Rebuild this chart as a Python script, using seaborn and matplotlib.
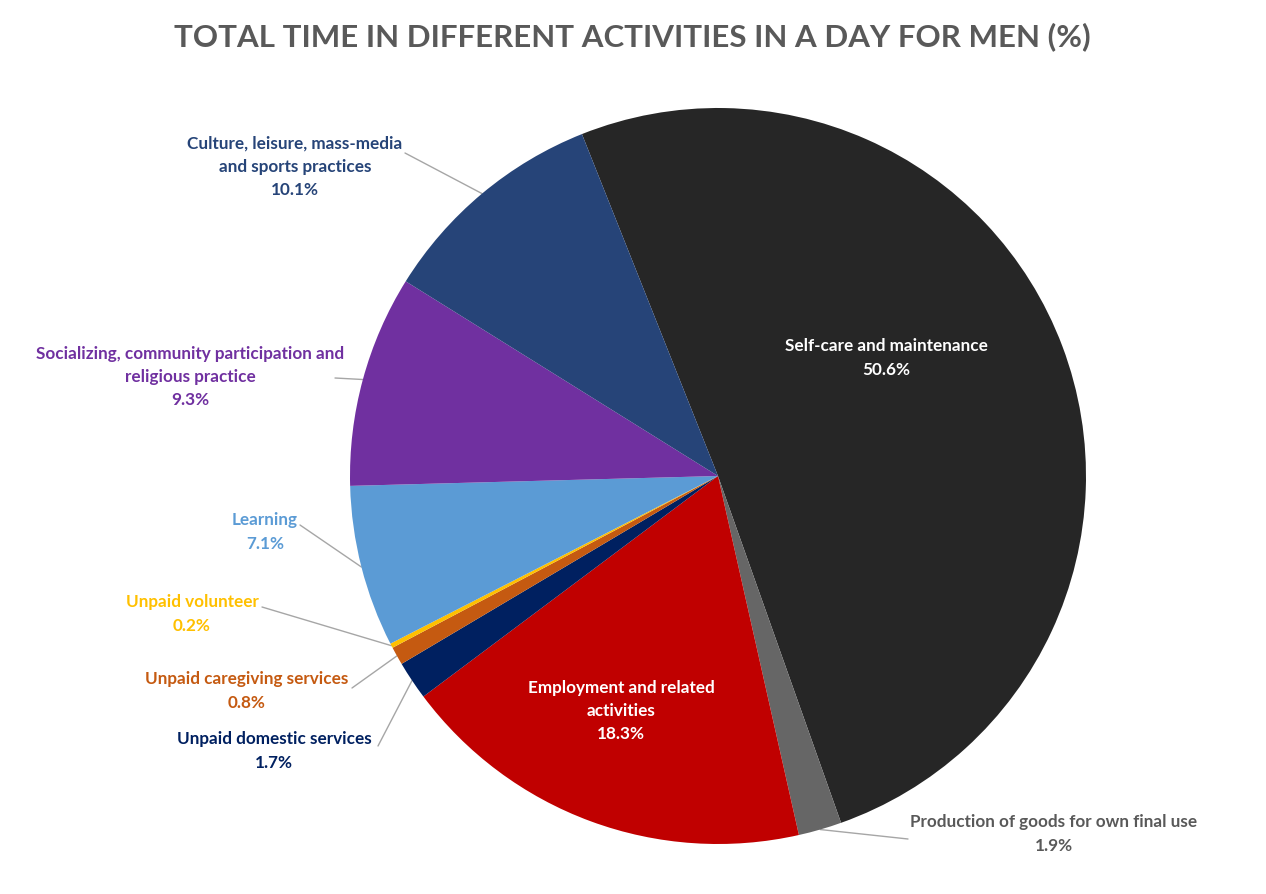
import numpy as np
import matplotlib.pyplot as plt
import seaborn as sns

# Data: share of the day (%) spent on each activity, men
activities = ['Self-care and maintenance', 'Production of goods for own final use',
              'Employment and related activities', 'Unpaid domestic services',
              'Unpaid caregiving services', 'Unpaid volunteer', 'Learning',
              'Socializing, community participation and religious practice',
              'Culture, leisure, mass-media and sports practices']
shares = [50.6, 1.9, 18.3, 1.7, 0.8, 0.2, 7.1, 9.3, 10.1]
label_lines = ['Self-care and maintenance', 'Production of goods for own final use',
               'Employment and related\nactivities', 'Unpaid domestic services',
               'Unpaid caregiving services', 'Unpaid volunteer', 'Learning',
               'Socializing, community participation and\nreligious practice',
               'Culture, leisure, mass-media\nand sports practices']
colors = ['#262626', '#666666', '#C00000', '#002060', '#C55A11', '#FFC000',
          '#5B9BD5', '#7030A0', '#264478']
text_colors = ['white', '#595959', 'white', '#002060', '#C55A11', '#FFC000',
               '#5B9BD5', '#7030A0', '#264478']

# layout (pixel positions of label centres and leader-line starts)
W, H = 1266, 894
CX, CY, R = 718, 476, 368
label_pos = [(886, 358), (1054, 834), (621, 711), (274, 751), (247, 691),
             (192, 614), (265, 532), (190, 377), (295, 167)]
leader_start = [None, (908, 839), None, (378, 746), (352, 688), (262, 607),
                (300, 525), (335, 378), (405, 153)]

sns.set_theme(style='white')
plt.rcParams['font.family'] = ['Lato', 'DejaVu Sans']


def to_data(p):
    return (p[0] - CX) / R, (CY - p[1]) / R


fig = plt.figure(figsize=(W / 100, H / 100), dpi=100)
ax = fig.add_axes([0, 0, 1, 1])
wedges, _ = ax.pie(shares, colors=colors, startangle=111.7, counterclock=False,
                   radius=1, center=(0, 0), wedgeprops=dict(linewidth=0))
ax.set_xlim(-CX / R, (W - CX) / R)
ax.set_ylim(-(H - CY) / R, CY / R)
ax.set_aspect('equal')
ax.axis('off')

for i, w in enumerate(wedges):
    x, y = to_data(label_pos[i])
    ax.text(x, y, f'{label_lines[i]}\n{shares[i]}%', ha='center', va='center',
            color=text_colors[i], fontsize=12.3, fontweight='bold', linespacing=1.55)
    if leader_start[i] is not None:
        mid = np.deg2rad((w.theta1 + w.theta2) / 2)
        sx, sy = to_data(leader_start[i])
        ax.plot([sx, np.cos(mid)], [sy, np.sin(mid)], color='#A6A6A6', lw=1, zorder=0.5)

fig.text(632 / W, 1 - 37 / H, 'TOTAL TIME IN DIFFERENT ACTIVITIES IN A DAY FOR MEN (%)',
         ha='center', va='center', fontsize=22.5, fontweight='bold', color='#595959')

fig.savefig('out.png', dpi=100)
